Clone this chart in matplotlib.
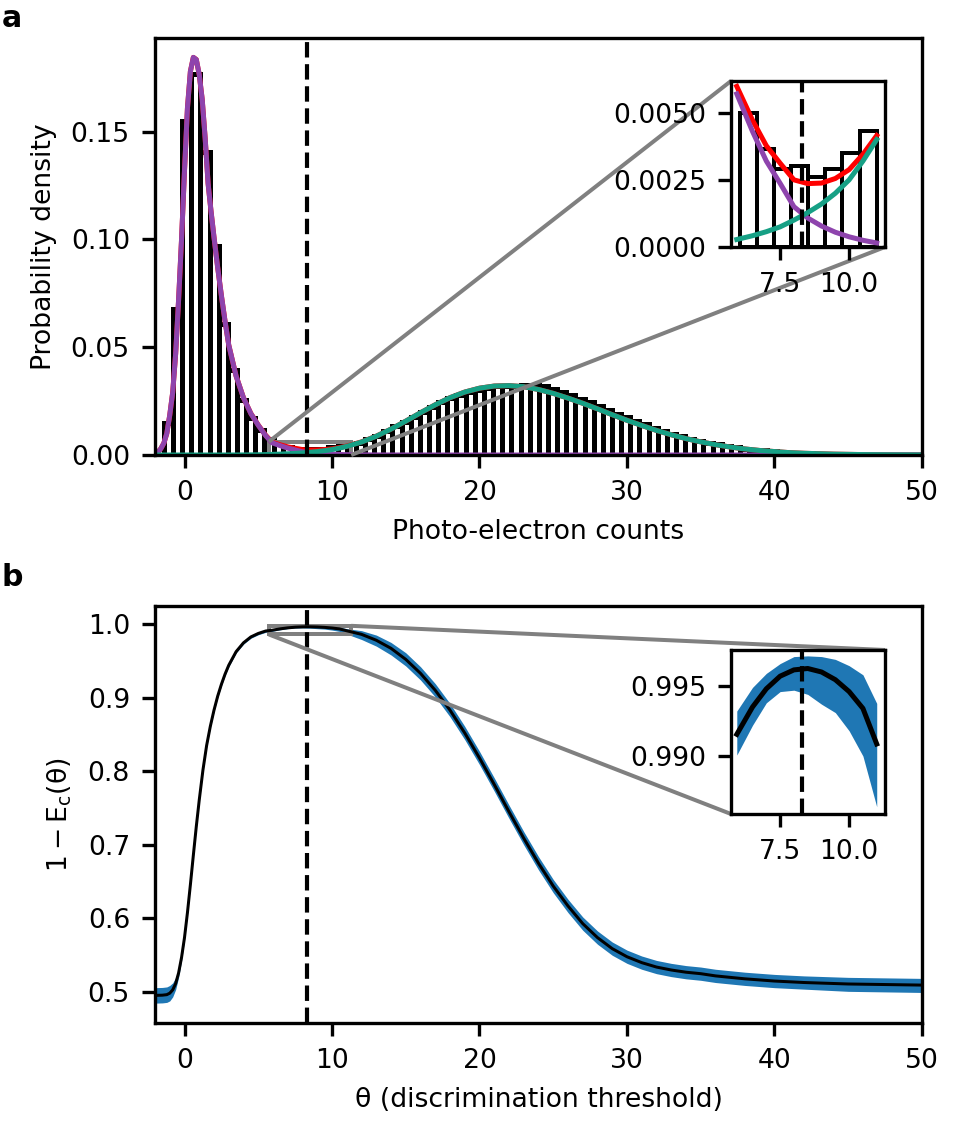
import numpy as np
import matplotlib.pyplot as plt
from mpl_toolkits.axes_grid1.inset_locator import mark_inset

W, H, DPI = 969, 1121, 240
plt.rcParams['font.family'] = ['DejaVu Sans']
plt.rcParams['font.size'] = 8
plt.rcParams['axes.linewidth'] = 1.0
plt.rcParams['xtick.major.width'] = 1.0
plt.rcParams['ytick.major.width'] = 1.0
plt.rcParams['xtick.major.size'] = 4
plt.rcParams['ytick.major.size'] = 4

# ---------------- data: panel a ----------------
bin_start = -1.40
bin_width = 0.62
hist_heights = [
    0.0148, 0.0679, 0.1548, 0.1769, 0.1406, 0.0972, 0.0606, 0.0395, 0.0255, 0.0170,
    0.0116, 0.0074, 0.0050, 0.00365, 0.0029, 0.0030, 0.0026, 0.0029, 0.0035, 0.0043,
    0.0050, 0.0058, 0.0072, 0.0090, 0.0110, 0.0135, 0.0155, 0.0178, 0.0200, 0.0222,
    0.0245, 0.0265, 0.0280, 0.0292, 0.0302, 0.0312, 0.0318, 0.0320, 0.0322, 0.0324,
    0.0326, 0.0318, 0.0306, 0.0292, 0.0278, 0.0262, 0.0246, 0.0228, 0.0210, 0.0192,
    0.0175, 0.0158, 0.0142, 0.0127, 0.0112, 0.0099, 0.0087, 0.0076, 0.0066, 0.0057,
    0.0049, 0.0042, 0.0036, 0.0030, 0.0025, 0.0021, 0.0017, 0.0014, 0.0011, 0.0009,
    0.0007, 0.0005, 0.0004, 0.0003, 0.0002, 0.00015, 0.0001, 0.0001,
]

curve_x = [-2.0, -1.8, -1.6, -1.4, -1.2, -1.0, -0.8, -0.6, -0.4, -0.2,
           0.0, 0.2, 0.4, 0.6, 0.8, 1.0, 1.2, 1.4, 1.6, 1.8,
           2.0, 2.25, 2.5, 2.75, 3.0, 3.5, 4.0, 4.5, 5.0, 5.5,
           5.93, 6.5, 7.0, 7.5, 8.0, 8.5, 9.0, 9.5, 10.0, 10.5,
           11.0, 12, 13, 14, 15, 16, 17, 18, 19, 20,
           21, 22, 23, 24, 25, 26, 27, 28, 29, 30,
           31, 32, 33, 34, 35, 36, 37, 38, 39, 40,
           41, 42, 43, 44, 45, 46, 48, 50]
fit_single = [0.0003, 0.0013, 0.0030, 0.0055, 0.0100, 0.0185, 0.0290, 0.0470, 0.0720, 0.1000,
              0.1320, 0.1610, 0.1780, 0.1845, 0.1835, 0.1765, 0.1650, 0.1470, 0.1260, 0.1130,
              0.1010, 0.0870, 0.0740, 0.0620, 0.0510, 0.0366, 0.0265, 0.0192, 0.0138, 0.0090,
              0.0057, 0.0043, 0.0032, 0.00237, 0.00150, 0.00108, 0.00078, 0.00055, 0.00038, 0.00025,
              0.00015, 0.00007, 0.00003, 0.00001, 0, 0, 0, 0, 0, 0,
              0, 0, 0, 0, 0, 0, 0, 0, 0, 0,
              0, 0, 0, 0, 0, 0, 0, 0, 0, 0,
              0, 0, 0, 0, 0, 0, 0, 0]
fit_double = [0, 0, 0, 0, 0, 0, 0, 0, 0, 0,
              0, 0, 0, 0, 0, 0, 0, 0, 0, 0,
              0, 0, 0, 0, 0.00001, 0.00002, 0.00003, 0.00006, 0.0001, 0.00018,
              0.00028, 0.00042, 0.00057, 0.00075, 0.0010, 0.00128, 0.0016, 0.0020, 0.0025, 0.0032,
              0.0040, 0.0060, 0.0087, 0.0120, 0.0157, 0.0196, 0.0233, 0.0266, 0.0292, 0.0310,
              0.0320, 0.0322, 0.0317, 0.0304, 0.0286, 0.0264, 0.0240, 0.0214, 0.0187, 0.0161,
              0.0137, 0.0114, 0.0094, 0.0076, 0.0061, 0.0048, 0.0037, 0.0028, 0.0021, 0.0016,
              0.0011, 0.0008, 0.0006, 0.0004, 0.0003, 0.0002, 0.0001, 0.00005]

# ---------------- data: panel b ----------------
theta = [-2.0, -1.5, -1.2, -1.0, -0.8, -0.6, -0.4, -0.2, 0.0, 0.2,
         0.4, 0.6, 0.8, 1.0, 1.25, 1.5, 1.75, 2.0, 2.25, 2.5,
         2.75, 3.0, 3.5, 4.0, 4.5, 5.0, 5.5, 5.93, 6.5, 7.0,
         7.5, 8.0, 8.5, 9.0, 9.5, 10.0, 10.5, 11.0, 12, 13,
         14, 15, 16, 17, 18, 19, 20, 21, 22, 23,
         24, 25, 26, 27, 28, 29, 30, 31, 32, 33,
         34, 35, 36, 37, 38, 40, 42, 45, 50]
fidelity = [0.4955, 0.4958, 0.4965, 0.4985, 0.5030, 0.5115, 0.5260, 0.5470, 0.5740, 0.6080,
            0.6460, 0.6860, 0.7250, 0.7610, 0.8016, 0.8350, 0.8610, 0.8830, 0.9020, 0.9180,
            0.9320, 0.9440, 0.9625, 0.9745, 0.9825, 0.9872, 0.9905, 0.99155, 0.9935, 0.9948,
            0.9957, 0.99615, 0.99625, 0.9960, 0.99545, 0.9946, 0.9934, 0.99086, 0.986, 0.978,
            0.967, 0.952, 0.933, 0.910, 0.883, 0.852, 0.818, 0.782, 0.745, 0.709,
            0.675, 0.644, 0.617, 0.593, 0.574, 0.559, 0.548, 0.540, 0.534, 0.530,
            0.527, 0.525, 0.522, 0.520, 0.518, 0.515, 0.513, 0.511, 0.5095]
fidelity_low = [0.4850, 0.4853, 0.4860, 0.4880, 0.4935, 0.5035, 0.5200, 0.5425, 0.5705, 0.6055,
                0.6435, 0.6835, 0.7225, 0.7585, 0.7996, 0.8330, 0.8590, 0.8810, 0.9000, 0.9160,
                0.9300, 0.9420, 0.9607, 0.9727, 0.9807, 0.9854, 0.9887, 0.99007, 0.9922, 0.9938,
                0.9946, 0.9947, 0.9944, 0.9937, 0.9931, 0.9918, 0.9900, 0.98638, 0.979, 0.970,
                0.958, 0.943, 0.924, 0.901, 0.874, 0.843, 0.809, 0.773, 0.736, 0.700,
                0.666, 0.635, 0.608, 0.584, 0.565, 0.550, 0.539, 0.531, 0.525, 0.521,
                0.518, 0.516, 0.513, 0.511, 0.509, 0.506, 0.504, 0.501, 0.4995]
fidelity_high = [0.5060, 0.5063, 0.5070, 0.5090, 0.5125, 0.5195, 0.5320, 0.5515, 0.5775, 0.6105,
                 0.6485, 0.6885, 0.7275, 0.7635, 0.8036, 0.8370, 0.8630, 0.8850, 0.9040, 0.9200,
                 0.9340, 0.9460, 0.9643, 0.9763, 0.9843, 0.9890, 0.9921, 0.99321, 0.9949, 0.9959,
                 0.9966, 0.9971, 0.99715, 0.9971, 0.9969, 0.99645, 0.9958, 0.99376, 0.991, 0.985,
                 0.975, 0.961, 0.942, 0.919, 0.892, 0.861, 0.827, 0.791, 0.754, 0.718,
                 0.684, 0.653, 0.626, 0.602, 0.583, 0.568, 0.557, 0.549, 0.543, 0.539,
                 0.536, 0.534, 0.531, 0.529, 0.527, 0.524, 0.522, 0.520, 0.5186]

threshold = 8.3
zoom_range = (5.9, 11.0)

PURPLE = '#8e44ad'
TEAL = '#16a085'

fig = plt.figure(figsize=(W / DPI, H / DPI), dpi=DPI)


def fx(px):
    return px / W


def fy(py):
    return 1 - py / H


ax1 = fig.add_axes([fx(155), fy(455), fx(922) - fx(155), fy(38) - fy(455)])
ax2 = fig.add_axes([fx(155), fy(1023), fx(922) - fx(155), fy(606) - fy(1023)])
ins1 = fig.add_axes([fx(731), fy(247), fx(885) - fx(731), fy(81) - fy(247)])
ins2 = fig.add_axes([fx(731), fy(814), fx(885) - fx(731), fy(650) - fy(814)])

heights = np.array(hist_heights)
edges = bin_start + bin_width * np.arange(len(heights) + 1)
cx = np.array(curve_x)
c1 = np.array(fit_single)
c2 = np.array(fit_double)
ctot = c1 + c2

# ---- panel a ----
ax1.bar(edges[:-1], heights, width=bin_width, align='edge', facecolor='white',
        edgecolor='black', linewidth=1.5)
ax1.plot(cx, ctot, color='red', lw=1.5)
ax1.plot(cx, c1, color=PURPLE, lw=1.5)
ax1.plot(cx, c2, color=TEAL, lw=1.5)
ax1.axvline(threshold, color='black', ls='--', lw=1.25)
ax1.set_xlim(-2, 50)
ax1.set_ylim(0, 0.1935)
ax1.set_yticks([0, 0.05, 0.10, 0.15])
ax1.set_xlabel('Photo-electron counts')
ax1.set_ylabel('Probability density')

sel = (edges[:-1] >= zoom_range[0]) & (edges[1:] <= zoom_range[1] + 0.01)
ins1.bar(edges[:-1][sel], heights[sel], width=bin_width, align='edge', facecolor='white',
         edgecolor='black', linewidth=1.2)
csel = (cx >= zoom_range[0]) & (cx <= zoom_range[1])
ins1.plot(cx[csel], ctot[csel], color='red', lw=1.5)
ins1.plot(cx[csel], c1[csel], color=PURPLE, lw=1.5)
ins1.plot(cx[csel], c2[csel], color=TEAL, lw=1.5)
ins1.axvline(threshold, color='black', ls='--', lw=1.25)
ins1.set_xlim(5.72, 11.3)
ins1.set_ylim(0, 0.00618)
ins1.set_xticks([7.5, 10.0])
ins1.set_xticklabels(['7.5', '10.0'])
ins1.set_yticks([0, 0.0025, 0.005])
ins1.set_yticklabels(['0.0000', '0.0025', '0.0050'])
mark_inset(ax1, ins1, loc1=2, loc2=4, fc='none', ec='0.5', lw=1.2)

# ---- panel b ----
th = np.array(theta)
fid = np.array(fidelity)
flo = np.array(fidelity_low)
fhi = np.array(fidelity_high)
ax2.fill_between(th, flo, fhi, color='#1f77b4', lw=0)
ax2.plot(th, fid, color='black', lw=0.9)
ax2.axvline(threshold, color='black', ls='--', lw=1.25)
ax2.set_xlim(-2, 50)
ax2.set_ylim(0.458, 1.0245)
ax2.set_xlabel('θ (discrimination threshold)')
ax2.set_ylabel(r'$\mathregular{1-E_c(\theta)}$')

tsel = (th >= zoom_range[0]) & (th <= zoom_range[1])
ins2.fill_between(th[tsel], flo[tsel], fhi[tsel], color='#1f77b4', lw=0)
ins2.plot(th[tsel], fid[tsel], color='black', lw=1.5)
ins2.axvline(threshold, color='black', ls='--', lw=1.25)
ins2.set_xlim(5.72, 11.3)
ins2.set_ylim(0.98586, 0.99757)
ins2.set_xticks([7.5, 10.0])
ins2.set_xticklabels(['7.5', '10.0'])
ins2.set_yticks([0.990, 0.995])
ins2.set_yticklabels(['0.990', '0.995'])
mark_inset(ax2, ins2, loc1=1, loc2=3, fc='none', ec='0.5', lw=1.2)

fig.text(fx(2), fy(4), 'a', fontweight='bold', fontsize=9, va='top', ha='left')
fig.text(fx(2), fy(563), 'b', fontweight='bold', fontsize=9, va='top', ha='left')

fig.savefig('out.png', dpi=DPI)
